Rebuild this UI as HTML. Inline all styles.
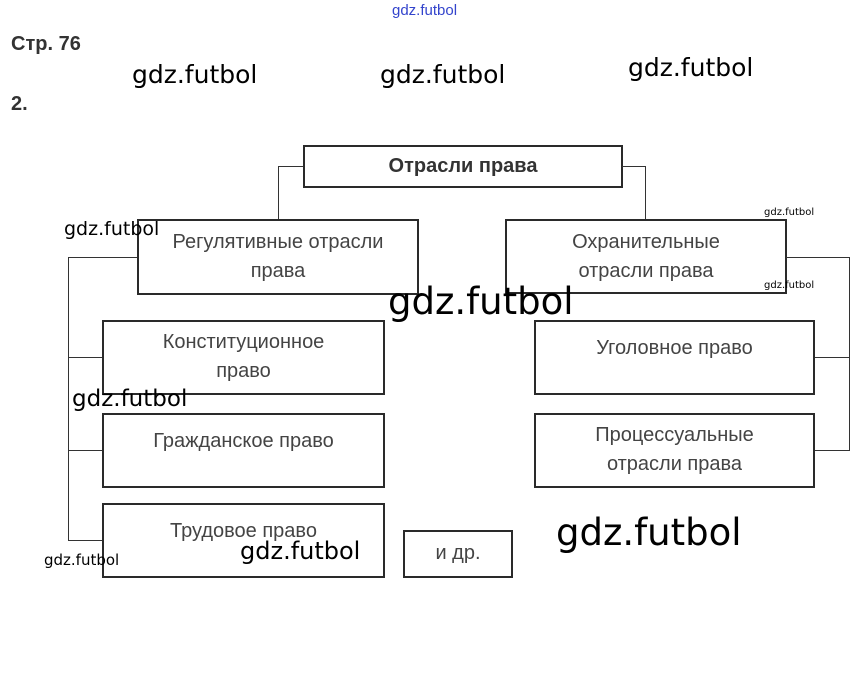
<!DOCTYPE html>
<html><head><meta charset="utf-8"><style>
body{margin:0;width:862px;height:675px;background:#fff;position:relative;overflow:hidden;font-family:"Liberation Sans",sans-serif}
.b{position:absolute;border:2px solid #2a2a2a;box-sizing:border-box;display:flex;align-items:center;justify-content:center;text-align:center;color:#444;font-size:20px;line-height:29px}
.l{position:absolute;background:#333}
.w{position:absolute;font-family:"DejaVu Sans","Liberation Sans",sans-serif;color:#000;white-space:nowrap}
</style></head><body>
<div class="w" style="left:392px;top:2px;font-size:15px;color:#3344cc;font-family:'Liberation Sans Narrow','Liberation Sans',sans-serif">gdz.futbol</div>
<div style="position:absolute;left:11px;top:33px;font-size:20px;font-weight:bold;color:#333">Стр. 76</div>
<div style="position:absolute;left:11px;top:93px;font-size:20px;font-weight:bold;color:#333">2.</div>

<div class="b" style="left:303px;top:145px;width:320px;height:43px;font-weight:bold;color:#333">Отрасли права</div>
<div class="l" style="left:278px;top:166px;width:25px;height:1px"></div>
<div class="l" style="left:278px;top:166px;width:1px;height:53px"></div>
<div class="l" style="left:622px;top:166px;width:24px;height:1px"></div>
<div class="l" style="left:645px;top:166px;width:1px;height:53px"></div>

<div class="b" style="left:137px;top:219px;width:282px;height:76px">Регулятивные отрасли<br>права</div>
<div class="b" style="left:505px;top:219px;width:282px;height:75px">Охранительные<br>отрасли права</div>

<div class="l" style="left:68px;top:257px;width:69px;height:1px"></div>
<div class="l" style="left:68px;top:257px;width:1px;height:284px"></div>
<div class="l" style="left:68px;top:357px;width:34px;height:1px"></div>
<div class="l" style="left:68px;top:450px;width:34px;height:1px"></div>
<div class="l" style="left:68px;top:540px;width:34px;height:1px"></div>

<div class="l" style="left:786px;top:257px;width:64px;height:1px"></div>
<div class="l" style="left:849px;top:257px;width:1px;height:194px"></div>
<div class="l" style="left:814px;top:357px;width:36px;height:1px"></div>
<div class="l" style="left:814px;top:450px;width:36px;height:1px"></div>

<div class="b" style="left:102px;top:320px;width:283px;height:75px;align-items:flex-start;padding-top:6px">Конституционное<br>право</div>
<div class="b" style="left:102px;top:413px;width:283px;height:75px;align-items:flex-start;padding-top:12px">Гражданское право</div>
<div class="b" style="left:102px;top:503px;width:283px;height:75px;align-items:flex-start;padding-top:12px">Трудовое право</div>
<div class="b" style="left:534px;top:320px;width:281px;height:75px;align-items:flex-start;padding-top:12px">Уголовное право</div>
<div class="b" style="left:534px;top:413px;width:281px;height:75px;align-items:flex-start;padding-top:6px">Процессуальные<br>отрасли права</div>
<div class="b" style="left:403px;top:530px;width:110px;height:48px;align-items:flex-start;padding-top:7px">и др.</div>

<div class="w" style="left:132px;top:60px;font-size:25px">gdz.futbol</div>
<div class="w" style="left:380px;top:60px;font-size:25px">gdz.futbol</div>
<div class="w" style="left:628px;top:53px;font-size:25px">gdz.futbol</div>
<div class="w" style="left:64px;top:218px;font-size:19px">gdz.futbol</div>
<div class="w" style="left:764px;top:207px;font-size:10px">gdz.futbol</div>
<div class="w" style="left:764px;top:280px;font-size:10px">gdz.futbol</div>
<div class="w" style="left:388px;top:280px;font-size:37px">gdz.futbol</div>
<div class="w" style="left:72px;top:386px;font-size:23px">gdz.futbol</div>
<div class="w" style="left:240px;top:537px;font-size:24px">gdz.futbol</div>
<div class="w" style="left:44px;top:551px;font-size:15px">gdz.futbol</div>
<div class="w" style="left:556px;top:511px;font-size:37px">gdz.futbol</div>
</body></html>
